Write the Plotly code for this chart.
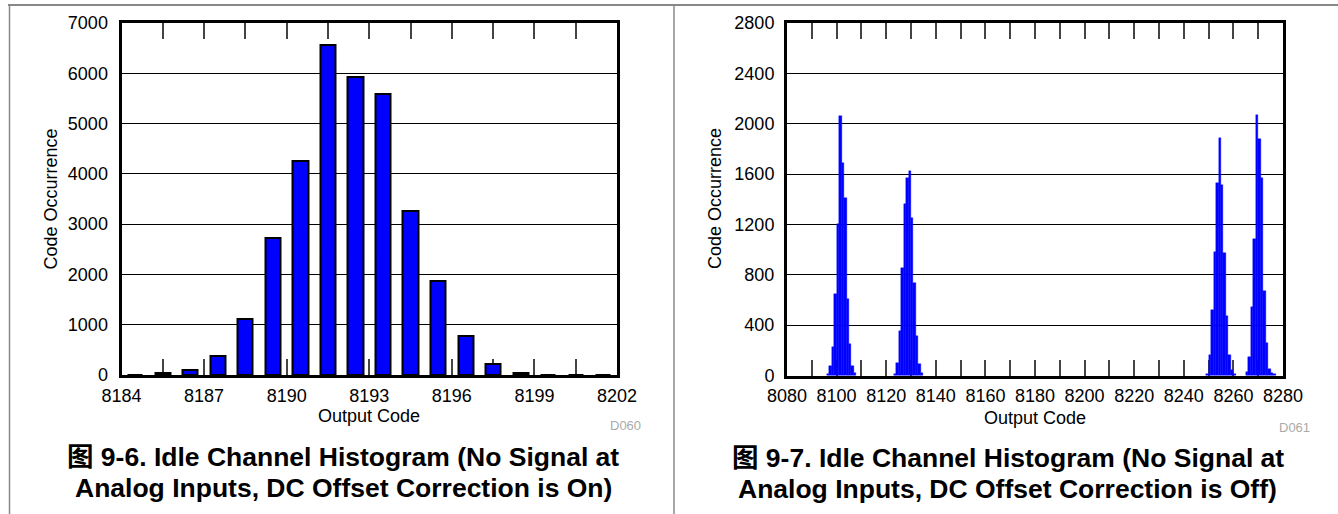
import plotly.graph_objects as go

W, H = 1338, 514

# ---------------- data ----------------
# Left: DC offset correction ON (bins start at code)
left_codes = [8184, 8185, 8186, 8187, 8188, 8189, 8190, 8191, 8192,
              8193, 8194, 8195, 8196, 8197, 8198, 8199, 8200, 8201]
left_counts = [8, 40, 100, 370, 1120, 2730, 4250, 6560, 5930,
               5590, 3270, 1870, 770, 225, 45, 6, 3, 3]

# Right: DC offset correction OFF, four clusters
right_codes_a = [8096, 8097, 8098, 8099, 8100, 8101, 8102, 8103, 8104, 8105, 8106, 8107]
right_counts_a = [14, 72, 228, 650, 1205, 2062, 1690, 1409, 610, 250, 72, 19]
right_codes_b = [8123, 8124, 8125, 8126, 8127, 8128, 8129, 8130, 8131, 8132, 8133, 8134]
right_counts_b = [15, 98, 350, 850, 1364, 1570, 1628, 1255, 735, 310, 90, 19]
right_codes_c = [8249, 8250, 8251, 8252, 8253, 8254, 8255, 8256, 8257, 8258, 8259, 8260]
right_counts_c = [15, 165, 520, 980, 1528, 1888, 1515, 975, 470, 165, 45, 10]
right_codes_d = [8265, 8266, 8267, 8268, 8269, 8270, 8271, 8272, 8273, 8274, 8275, 8276]
right_counts_d = [24, 145, 545, 1083, 2072, 1882, 1569, 668, 255, 55, 17, 8]

left_xticks = [8184, 8187, 8190, 8193, 8196, 8199, 8202]
right_xticks = list(range(8080, 8281, 20))
left_yticks = [0, 1000, 2000, 3000, 4000, 5000, 6000, 7000]
right_yticks = [0, 400, 800, 1200, 1600, 2000, 2400, 2800]

captions_left = ["图 9-6. Idle Channel Histogram (No Signal at",
                 "Analog Inputs, DC Offset Correction is On)"]
captions_right = ["图 9-7. Idle Channel Histogram (No Signal at",
                  "Analog Inputs, DC Offset Correction is Off)"]

# ---------------- layout helpers ----------------
FONT = "Liberation Sans, Arial, Noto Sans CJK SC, sans-serif"
BLUE = "#0000FF"


def px(x):
    return x / W


def py(y):
    return 1 - y / H


L = dict(x0=121.5, x1=617, y0=23, y1=375)
R = dict(x0=787, x1=1283, y0=23, y1=375.5)

fig = go.Figure()

all_right_codes = right_codes_a + right_codes_b + right_codes_c + right_codes_d
all_right_counts = right_counts_a + right_counts_b + right_counts_c + right_counts_d

fig.add_trace(go.Bar(
    x=[c + 0.5 for c in left_codes], y=left_counts, width=0.55,
    marker=dict(color=BLUE, line=dict(color="black", width=2)),
    xaxis="x", yaxis="y", showlegend=False,
))
fig.add_trace(go.Bar(
    x=[c + 0.5 for c in all_right_codes], y=all_right_counts, width=1,
    marker=dict(color=BLUE, line=dict(color=BLUE, width=0.4)),
    xaxis="x2", yaxis="y2", showlegend=False,
))

tickfont = dict(family=FONT, size=18, color="black")
xcommon = dict(
    showline=True, linecolor="black", linewidth=3, mirror="allticks",
    ticks="inside", ticklen=16, tickwidth=1.5, tickcolor="#444",
    showgrid=False, zeroline=False, tickfont=tickfont, layer="below traces",
    automargin=False,
)
ycommon = dict(
    showline=True, linecolor="black", linewidth=3, mirror=True,
    ticks="", showgrid=True, gridcolor="black", gridwidth=1,
    zeroline=False, tickfont=tickfont, layer="below traces",
    automargin=False,
)

fig.update_layout(
    template="none",
    width=W, height=H,
    margin=dict(l=0, r=0, t=0, b=0, pad=0, autoexpand=False),
    paper_bgcolor="white", plot_bgcolor="white",
    bargap=0, showlegend=False,
    xaxis=dict(domain=[px(L["x0"]), px(L["x1"])], anchor="y",
               range=[8184, 8202], tickmode="array", tickvals=left_xticks,
               minor=dict(dtick=1.5, tick0=8184, ticks="inside", ticklen=16,
                          tickwidth=1.5, tickcolor="#444", showgrid=False),
               ticklabelstandoff=2, **xcommon),
    yaxis=dict(domain=[py(L["y1"]), py(L["y0"])], anchor="x",
               range=[0, 7000], tickmode="array", tickvals=left_yticks,
               ticklabelstandoff=7, **ycommon),
    xaxis2=dict(domain=[px(R["x0"]), px(R["x1"])], anchor="y2",
                range=[8080, 8280], tickmode="array", tickvals=right_xticks,
                minor=dict(dtick=10, tick0=8080, ticks="inside", ticklen=16,
                           tickwidth=1.5, tickcolor="#444", showgrid=False),
                ticklabelstandoff=2, **xcommon),
    yaxis2=dict(domain=[py(R["y1"]), py(R["y0"])], anchor="x2",
                range=[0, 2800], tickmode="array", tickvals=right_yticks,
                ticklabelstandoff=6, **ycommon),
)

ann = []


def text(x, y, s, size=18, bold=False, color="black", xanchor="center",
         angle=0):
    ann.append(dict(
        x=px(x), y=py(y), xref="paper", yref="paper", text=s,
        showarrow=False, xanchor=xanchor, yanchor="middle", textangle=angle,
        font=dict(family=FONT, size=size, color=color,
                  weight="bold" if bold else "normal"),
    ))


# left panel texts
text(50.5, 199, "Code Occurrence", angle=-90)
text(369, 416, "Output Code")
text(643, 425, "D060", size=13, color="#aaaaaa", xanchor="right")
text(343, 457, captions_left[0], size=26.5, bold=True)
text(343, 488, captions_left[1], size=26.5, bold=True)

# right panel texts
text(715, 199, "Code Occurrence", angle=-90)
text(1035, 418, "Output Code")
text(1312, 427, "D061", size=13, color="#aaaaaa", xanchor="right")
text(1008, 458, captions_right[0], size=26.5, bold=True)
text(1008, 489, captions_right[1], size=26.5, bold=True)

fig.update_layout(annotations=ann)

shapes = [
    dict(type="line", xref="paper", yref="paper", x0=px(8), x1=1, y0=py(5), y1=py(5),
         line=dict(color="#888888", width=2)),
    dict(type="line", xref="paper", yref="paper", x0=px(9.5), x1=px(9.5), y0=py(5), y1=0,
         line=dict(color="#888888", width=1.5)),
    dict(type="line", xref="paper", yref="paper", x0=px(674), x1=px(674), y0=py(5), y1=0,
         line=dict(color="#888888", width=1.5)),
]
fig.update_layout(shapes=shapes)

fig.write_html(
    "out.html",
    config={"displayModeBar": False},
    post_script="document.body.style.margin='0';document.body.style.padding='0';",
)
